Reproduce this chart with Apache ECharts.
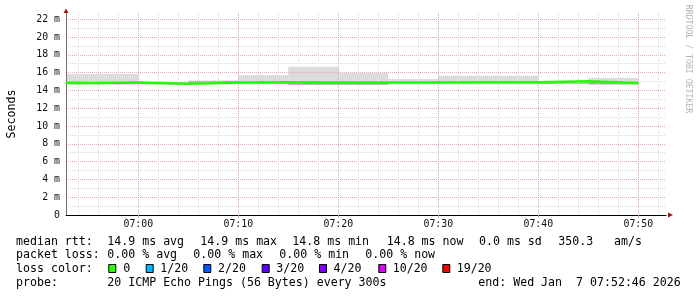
<!DOCTYPE html>
<html><head><meta charset="utf-8">
<script src="https://cdn.jsdelivr.net/npm/echarts@6/dist/echarts.min.js"></script>
<style>html,body{margin:0;padding:0;background:#fff}#c{width:697px;height:297px}</style>
</head><body><div id="c"></div>
<script>
// ---- data (values in ms, times as HH:MM[:SS]) ----
const startTime = '06:52:46';
const endTime = '07:52:46';
const stepEnds = ['06:55','07:00','07:05','07:10','07:15','07:20','07:25','07:30','07:35','07:40','07:45','07:50'];
const pingMin = [14.62,14.65,14.66,14.66,14.66,14.60,14.60,14.66,14.66,14.66,14.70,14.62];
const pingLo  = [14.72,14.80,14.70,14.80,14.80,14.64,14.64,14.80,14.80,14.80,14.76,14.68];
const pingHi  = [15.05,14.98,14.85,15.08,14.98,14.98,14.98,14.98,15.05,14.98,14.86,14.95];
const pingMax = [15.84,15.84,14.92,15.10,15.73,16.66,15.99,15.28,15.65,15.65,15.05,15.39];
const median  = [14.83,14.90,14.76,14.90,14.92,14.90,14.90,14.90,14.92,14.92,15.02,14.82];

const rttLabel = 'median rtt:';
const rttStats = ['14.9 ms avg','14.9 ms max','14.8 ms min','14.8 ms now','0.0 ms sd','350.3','am/s'];
const lossLabel = 'packet loss:';
const lossStats = ['0.00 % avg','0.00 % max','0.00 % min','0.00 % now'];
const colorLabel = 'loss color:';
const lossLabels = ['0','1/20','2/20','3/20','4/20','10/20','19/20'];
const lossColors = ['#26ff00','#00b8ff','#0059ff','#5e00ff','#7e00ff','#dd00ff','#ff0000'];
const probeLabel = 'probe:';
const probeText = '20 ICMP Echo Pings (56 Bytes) every 300s';
const endText = 'end: Wed Jan  7 07:52:46 2026';
const sideText = 'RRDTOOL / TOBI OETIKER';
const yName = 'Seconds';

// ---- helpers ----
function toMin(s){ const p=s.split(':').map(Number); return p[0]*60+p[1]+(p[2]||0)/60; }
function fmtMin(v){ const m=Math.round(v); const h=Math.floor(m/60), mm=m%60; return String(h).padStart(2,'0')+':'+String(mm).padStart(2,'0'); }

const xMin = toMin(startTime), xMax = toMin(endTime);
const smokeData = stepEnds.map((t,i)=>[i===0?xMin:toMin(stepEnds[i-1]), toMin(t), pingMin[i], pingLo[i], pingHi[i], pingMax[i]]);
const medianData = [[xMin, median[0]]].concat(stepEnds.map((t,i)=>[toMin(t), median[i]]));

// ---- layout ----
const MONO = '"DejaVu Sans Mono", monospace';
const LF = '11.6px ' + MONO;
const rowY = [241.6, 255.2, 268.9, 282.6];
const colX0 = 16;
const rttX = [107.3, 200.3, 292.3, 386.7, 479, 558.3, 614];
const lossX = [107.3, 193.3, 279.3, 365.3];
const boxX = [108.3, 145.7, 203.3, 261.7, 319, 378.3, 442.3];
const boxLabelX = [123.3, 160.3, 218, 276.3, 333.5, 392.7, 456.7];

function txt(s, x, y){ return {type:'text', x:x, y:y, style:{text:s, font:LF, fill:'#000', align:'left', verticalAlign:'middle'}}; }
const graphics = [];
graphics.push(txt(rttLabel, colX0, rowY[0]));
rttStats.forEach((s,i)=>graphics.push(txt(s, rttX[i], rowY[0])));
graphics.push(txt(lossLabel, colX0, rowY[1]));
lossStats.forEach((s,i)=>graphics.push(txt(s, lossX[i], rowY[1])));
graphics.push(txt(colorLabel, colX0, rowY[2]));
lossLabels.forEach((s,i)=>{
  graphics.push({type:'rect', shape:{x:boxX[i]+0.5, y:264.5, width:7, height:8}, style:{fill:lossColors[i], stroke:'#000', lineWidth:1}});
  graphics.push(txt(s, boxLabelX[i], rowY[2]));
});
graphics.push(txt(probeLabel, colX0, rowY[3]));
graphics.push(txt(probeText, 107.3, rowY[3]));
graphics.push(txt(endText, 478.3, rowY[3]));
graphics.push({type:'text', x:688, y:59, rotation:-Math.PI/2, style:{text:sideText, font:'8.2px '+MONO, fill:'#b4b4b4', align:'center', verticalAlign:'middle'}});
// axis arrows
graphics.push({type:'polygon', shape:{points:[[63.5,13],[68.5,13],[66,8.5]]}, style:{fill:'#a01010'}});
graphics.push({type:'polygon', shape:{points:[[668,212.5],[668,217.5],[673,215]]}, style:{fill:'#a01010'}});

const chart = echarts.init(document.getElementById('c'), null, {renderer:'canvas'});
chart.setOption({
  animation:false,
  backgroundColor:'#fff',
  grid:{left:66, top:13, width:600, height:202, containLabel:false, outerBoundsMode:'none'},
  xAxis:{
    type:'value', min:xMin, max:xMax, splitNumber:6,
    axisLine:{show:true, onZero:false, lineStyle:{color:'#000', width:1}},
    axisTick:{show:true, length:3, lineStyle:{color:'#e6a0a0'}},
    axisLabel:{show:true, margin:4, showMinLabel:false, showMaxLabel:false, color:'#111', fontFamily:'DejaVu Sans Mono', fontSize:9.9, formatter:fmtMin},
    splitLine:{show:true, showMinLine:false, showMaxLine:false, lineStyle:{color:'#eaa8a8', type:'dotted', width:1}},
    minorTick:{show:false, splitNumber:5},
    minorSplitLine:{show:true, lineStyle:{color:'#dcdcdc', type:'dotted', width:1}}
  },
  yAxis:{
    type:'value', min:0, max:22.7, interval:2,
    name:yName, nameLocation:'middle', nameRotate:90, nameGap:48.5,
    nameTextStyle:{fontFamily:'DejaVu Sans Mono', fontSize:11.6, color:'#000'},
    axisLine:{show:true, lineStyle:{color:'#707070', width:1}},
    axisTick:{show:false},
    axisLabel:{show:true, margin:6, showMaxLabel:false, color:'#111', fontFamily:'DejaVu Sans Mono', fontSize:9.9,
      formatter:v=> v===0 ? '0' : v+' m'},
    splitLine:{show:true, showMinLine:false, showMaxLine:false, lineStyle:{color:'#eaa8a8', type:'dotted', width:1}},
    minorTick:{show:false, splitNumber:2},
    minorSplitLine:{show:true, lineStyle:{color:'#d8d8d8', type:'dotted', width:1}}
  },
  series:[
    {
      type:'custom', z:-1, clip:true, silent:true,
      data:smokeData,
      encode:{x:[0,1], y:[2,5]},
      renderItem:function(params, api){
        const t0=api.value(0), t1=api.value(1);
        const v=[api.value(2),api.value(3),api.value(4),api.value(5)];
        const fills=['#dcdcdc','#a6a6a6','#dcdcdc'];
        const ch=[];
        for(let k=0;k<3;k++){
          const p0=api.coord([t0, v[k+1]]), p1=api.coord([t1, v[k]]);
          ch.push({type:'rect', shape:{x:p0[0], y:p0[1], width:p1[0]-p0[0], height:p1[1]-p0[1]}, style:{fill:fills[k]}});
        }
        return {type:'group', children:ch};
      }
    },
    {
      type:'line', step:'start', data:medianData, symbol:'none', silent:true,
      lineStyle:{color:'#22ff00', width:2.5}, z:3
    }
  ],
  graphic:graphics
});
</script>
</body></html>
